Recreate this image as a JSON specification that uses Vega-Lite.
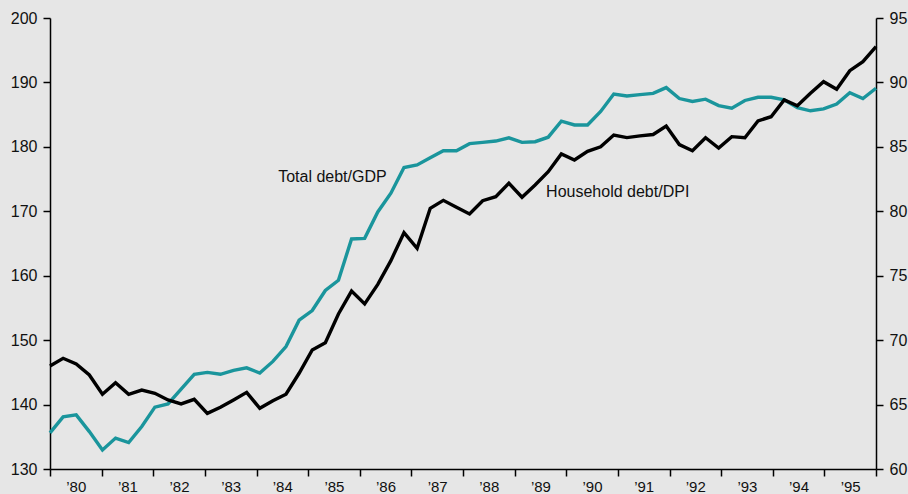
{
  "$schema": "https://vega.github.io/schema/vega-lite/v6.json",
  "width": 826,
  "height": 451,
  "autosize": {"type": "none"},
  "padding": {"left": 50, "top": 18, "right": 32, "bottom": 25},
  "background": "#e6e6e6",
  "config": {
    "view": {"stroke": null},
    "font": "Liberation Sans",
    "axis": {
      "grid": false,
      "domainColor": "#000000",
      "domainWidth": 1.5,
      "ticks": true,
      "tickColor": "#000000",
      "tickWidth": 1.5,
      "tickSize": 7,
      "labelColor": "#111111",
      "labelFont": "Liberation Sans",
      "title": null
    }
  },
  "datasets": {
    "series": [
      {"q": 0, "total": 135.6, "household": 68.0},
      {"q": 1, "total": 138.1, "household": 68.59},
      {"q": 2, "total": 138.4, "household": 68.15},
      {"q": 3, "total": 135.8, "household": 67.3},
      {"q": 4, "total": 132.95, "household": 65.8},
      {"q": 5, "total": 134.8, "household": 66.7},
      {"q": 6, "total": 134.1, "household": 65.8},
      {"q": 7, "total": 136.6, "household": 66.13},
      {"q": 8, "total": 139.6, "household": 65.88},
      {"q": 9, "total": 140.1, "household": 65.36},
      {"q": 10, "total": 142.4, "household": 65.05},
      {"q": 11, "total": 144.7, "household": 65.41},
      {"q": 12, "total": 145.0, "household": 64.32},
      {"q": 13, "total": 144.7, "household": 64.79},
      {"q": 14, "total": 145.3, "household": 65.36},
      {"q": 15, "total": 145.7, "household": 65.95},
      {"q": 16, "total": 144.9, "household": 64.71},
      {"q": 17, "total": 146.7, "household": 65.3},
      {"q": 18, "total": 149.0, "household": 65.8},
      {"q": 19, "total": 153.1, "household": 67.43},
      {"q": 20, "total": 154.6, "household": 69.24},
      {"q": 21, "total": 157.7, "household": 69.8},
      {"q": 22, "total": 159.3, "household": 72.03},
      {"q": 23, "total": 165.7, "household": 73.81},
      {"q": 24, "total": 165.8, "household": 72.81},
      {"q": 25, "total": 169.9, "household": 74.33},
      {"q": 26, "total": 172.8, "household": 76.17},
      {"q": 27, "total": 176.8, "household": 78.34},
      {"q": 28, "total": 177.2, "household": 77.13},
      {"q": 29, "total": 178.3, "household": 80.23},
      {"q": 30, "total": 179.4, "household": 80.85},
      {"q": 31, "total": 179.4, "household": 80.31},
      {"q": 32, "total": 180.5, "household": 79.79},
      {"q": 33, "total": 180.7, "household": 80.82},
      {"q": 34, "total": 180.9, "household": 81.13},
      {"q": 35, "total": 181.4, "household": 82.17},
      {"q": 36, "total": 180.7, "household": 81.09},
      {"q": 37, "total": 180.8, "household": 82.04},
      {"q": 38, "total": 181.5, "household": 83.07},
      {"q": 39, "total": 184.0, "household": 84.45},
      {"q": 40, "total": 183.4, "household": 83.98},
      {"q": 41, "total": 183.4, "household": 84.65},
      {"q": 42, "total": 185.5, "household": 85.01},
      {"q": 43, "total": 188.2, "household": 85.92},
      {"q": 44, "total": 187.9, "household": 85.72},
      {"q": 45, "total": 188.1, "household": 85.85},
      {"q": 46, "total": 188.3, "household": 85.96},
      {"q": 47, "total": 189.2, "household": 86.62},
      {"q": 48, "total": 187.5, "household": 85.18},
      {"q": 49, "total": 187.05, "household": 84.7},
      {"q": 50, "total": 187.4, "household": 85.71},
      {"q": 51, "total": 186.4, "household": 84.91},
      {"q": 52, "total": 186.0, "household": 85.79},
      {"q": 53, "total": 187.2, "household": 85.71},
      {"q": 54, "total": 187.7, "household": 87.01},
      {"q": 55, "total": 187.7, "household": 87.34},
      {"q": 56, "total": 187.3, "household": 88.64},
      {"q": 57, "total": 186.1, "household": 88.19},
      {"q": 58, "total": 185.6, "household": 89.16},
      {"q": 59, "total": 185.9, "household": 90.06},
      {"q": 60, "total": 186.65, "household": 89.47},
      {"q": 61, "total": 188.4, "household": 90.91},
      {"q": 62, "total": 187.5, "household": 91.61},
      {"q": 63, "total": 189.1, "household": 92.77}
    ],
    "labels": [
      {"q": 21.54, "total": 175.3, "label": "Total debt/GDP"},
      {"q": 43.3, "total": 173.04, "label": "Household debt/DPI"}
    ]
  },
  "layer": [
    {
      "layer": [
        {
          "data": {"name": "series"},
          "mark": {"type": "line", "color": "#1a959c", "strokeWidth": 3.4, "strokeJoin": "miter"},
          "encoding": {
            "x": {
              "field": "q",
              "type": "quantitative",
              "scale": {"domain": [0, 63], "nice": false, "zero": false},
              "axis": {
                "orient": "bottom",
                "ticks": true,
                "tickSize": 7,
                "values": [0, 3.9375, 7.875, 11.8125, 15.75, 19.6875, 23.625, 27.5625, 31.5, 35.4375, 39.375, 43.3125, 47.25, 51.1875, 55.125, 59.0625, 63],
                "labelExpr": "datum.value < 62 ? '\u2019' + format(80 + round(datum.value / 3.9375), 'd') : ''",
                "labelOffset": 25.8,
                "labelAlign": "center",
                "labelFontSize": 15,
                "labelPadding": 3,
                "labelFlush": false,
                "labelOverlap": false
              }
            },
            "y": {
              "field": "total",
              "type": "quantitative",
              "scale": {"domain": [130, 200], "nice": false, "zero": false},
              "axis": {
                "orient": "left",
                "values": [130, 140, 150, 160, 170, 180, 190, 200],
                "labelFontSize": 16,
                "labelPadding": 6
              }
            }
          }
        },
        {
          "data": {"name": "labels"},
          "mark": {"type": "text", "fontSize": 16, "color": "#111111", "align": "center", "baseline": "middle", "font": "Liberation Sans"},
          "encoding": {
            "x": {"field": "q", "type": "quantitative"},
            "y": {"field": "total", "type": "quantitative"},
            "text": {"field": "label"}
          }
        }
      ]
    },
    {
      "data": {"name": "series"},
      "mark": {"type": "line", "color": "#000000", "strokeWidth": 3.4, "strokeJoin": "miter"},
      "encoding": {
        "x": {"field": "q", "type": "quantitative"},
        "y": {
          "field": "household",
          "type": "quantitative",
          "scale": {"domain": [60, 95], "nice": false, "zero": false},
          "axis": {
            "orient": "right",
            "values": [60, 65, 70, 75, 80, 85, 90, 95],
            "labelFontSize": 16,
            "labelPadding": 6
          }
        }
      }
    }
  ],
  "resolve": {"scale": {"y": "independent"}, "axis": {"y": "independent"}}
}
